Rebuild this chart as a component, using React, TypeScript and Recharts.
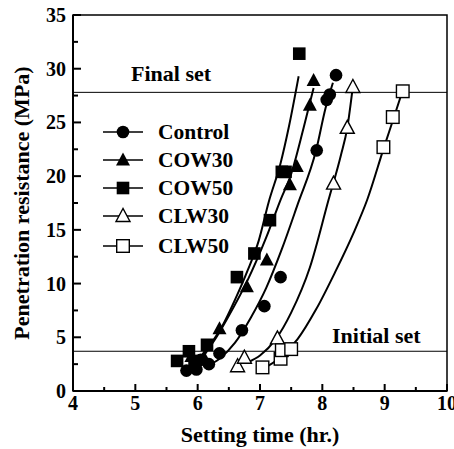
import React from "react";
import {
  ComposedChart,
  Line,
  Scatter,
  XAxis,
  YAxis,
  ReferenceLine,
  ReferenceArea,
  Legend,
} from "recharts";

const control = [
  { x: 5.82, y: 1.9 }, { x: 5.98, y: 2.0 }, { x: 6.05, y: 2.9 }, { x: 6.18, y: 2.5 },
  { x: 6.35, y: 3.5 }, { x: 6.71, y: 5.65 }, { x: 7.07, y: 7.9 }, { x: 7.33, y: 10.6 },
  { x: 7.91, y: 22.4 }, { x: 8.07, y: 27.1 }, { x: 8.12, y: 27.6 }, { x: 8.22, y: 29.4 },
];
const cow30 = [
  { x: 5.9, y: 3.2 }, { x: 6.1, y: 3.1 }, { x: 6.35, y: 5.8 }, { x: 6.79, y: 9.7 },
  { x: 7.11, y: 12.2 }, { x: 7.48, y: 19.2 }, { x: 7.59, y: 20.9 }, { x: 7.8, y: 26.6 },
  { x: 7.86, y: 28.9 },
];
const cow50 = [
  { x: 5.67, y: 2.8 }, { x: 5.86, y: 3.7 }, { x: 5.95, y: 2.8 }, { x: 6.15, y: 4.3 },
  { x: 6.63, y: 10.6 }, { x: 6.91, y: 12.8 }, { x: 7.16, y: 15.9 }, { x: 7.35, y: 20.4 },
  { x: 7.41, y: 20.4 }, { x: 7.63, y: 31.4 },
];
const clw30 = [
  { x: 6.64, y: 2.3 }, { x: 6.75, y: 3.1 }, { x: 7.28, y: 4.9 }, { x: 8.18, y: 19.3 },
  { x: 8.4, y: 24.5 }, { x: 8.49, y: 28.3 },
];
const clw50 = [
  { x: 7.04, y: 2.2 }, { x: 7.33, y: 3.0 }, { x: 7.35, y: 3.8 }, { x: 7.5, y: 3.9 },
  { x: 8.98, y: 22.7 }, { x: 9.13, y: 25.5 }, { x: 9.29, y: 27.9 },
];

// fitted curves
const controlFit = [
  { x: 6.15, y: 2.3 }, { x: 6.35, y: 3.0 }, { x: 6.6, y: 4.5 }, { x: 6.85, y: 6.8 },
  { x: 7.1, y: 9.6 }, { x: 7.35, y: 13.2 }, { x: 7.6, y: 17.3 }, { x: 7.9, y: 22.4 },
  { x: 8.05, y: 26.3 }, { x: 8.17, y: 28.7 },
];
const cow30Fit = [
  { x: 6.1, y: 3.3 }, { x: 6.3, y: 5.0 }, { x: 6.5, y: 7.0 }, { x: 6.8, y: 10.3 },
  { x: 7.1, y: 14.3 }, { x: 7.33, y: 17.8 }, { x: 7.5, y: 20.2 }, { x: 7.7, y: 24.5 },
  { x: 7.86, y: 28.2 },
];
const cow50Fit = [
  { x: 6.05, y: 3.2 }, { x: 6.2, y: 4.3 }, { x: 6.4, y: 6.1 }, { x: 6.6, y: 8.5 },
  { x: 6.8, y: 11.2 }, { x: 6.98, y: 14.0 }, { x: 7.14, y: 17.6 }, { x: 7.33, y: 21.2 },
  { x: 7.46, y: 24.5 }, { x: 7.62, y: 29.3 },
];
const clw30Fit = [
  { x: 6.82, y: 2.7 }, { x: 7.0, y: 3.3 }, { x: 7.25, y: 4.8 }, { x: 7.5, y: 7.3 },
  { x: 7.8, y: 11.5 }, { x: 8.1, y: 17.8 }, { x: 8.3, y: 22.0 }, { x: 8.4, y: 24.5 },
  { x: 8.48, y: 27.9 },
];
const clw50Fit = [
  { x: 7.06, y: 2.1 }, { x: 7.3, y: 3.0 }, { x: 7.6, y: 4.8 }, { x: 7.9, y: 7.6 },
  { x: 8.2, y: 11.0 }, { x: 8.5, y: 14.7 }, { x: 8.72, y: 17.8 }, { x: 8.99, y: 22.7 },
  { x: 9.15, y: 25.5 }, { x: 9.29, y: 28.0 },
];

const xTicks = [4, 4.5, 5, 5.5, 6, 6.5, 7, 7.5, 8, 8.5, 9, 9.5, 10];
const yTicks = [0, 2.5, 5, 7.5, 10, 12.5, 15, 17.5, 20, 22.5, 25, 27.5, 30, 32.5, 35];
const initialSet = 3.7;
const finalSet = 27.8;

const FONT = "'Liberation Serif', 'Times New Roman', serif";

type ShapeKind = "circle" | "triangle" | "square" | "openTriangle" | "openSquare";

function Marker({ cx, cy, kind }: { cx: number; cy: number; kind: ShapeKind }) {
  const filled = kind === "circle" || kind === "triangle" || kind === "square";
  const fill = filled ? "#000" : "#fff";
  const sw = filled ? 0 : 1.4;
  if (kind === "circle") return <circle cx={cx} cy={cy} r={6.3} fill="#000" />;
  if (kind === "triangle" || kind === "openTriangle")
    return (
      <polygon
        points={`${cx},${cy - 7.5} ${cx - 7},${cy + 5.5} ${cx + 7},${cy + 5.5}`}
        fill={fill}
        stroke="#000"
        strokeWidth={sw}
      />
    );
  return <rect x={cx - 6.3} y={cy - 6.3} width={12.6} height={12.6} fill={fill} stroke="#000" strokeWidth={sw} />;
}

const series: { name: string; pts: { x: number; y: number }[]; fit: { x: number; y: number }[]; kind: ShapeKind }[] = [
  { name: "Control", pts: control, fit: controlFit, kind: "circle" },
  { name: "COW30", pts: cow30, fit: cow30Fit, kind: "triangle" },
  { name: "COW50", pts: cow50, fit: cow50Fit, kind: "square" },
  { name: "CLW30", pts: clw30, fit: clw30Fit, kind: "openTriangle" },
  { name: "CLW50", pts: clw50, fit: clw50Fit, kind: "openSquare" },
];

const XTick = (props: any) => {
  const { x, y, payload } = props;
  const major = Number.isInteger(payload.value);
  return (
    <g>
      <line x1={x} x2={x} y1={y} y2={y - (major ? 7 : 4)} stroke="#000" strokeWidth={2} />
      {major && (
        <text x={x} y={y + 19} textAnchor="middle" fontFamily={FONT} fontWeight="bold" fontSize={20} fill="#000">
          {payload.value}
        </text>
      )}
    </g>
  );
};

const YTick = (props: any) => {
  const { x, y, payload } = props;
  const major = payload.value % 5 === 0;
  return (
    <g>
      <line x1={x} x2={x + (major ? 8 : 5)} y1={y} y2={y} stroke="#000" strokeWidth={2} />
      {major && (
        <text x={x - 7} y={y + 7} textAnchor="end" fontFamily={FONT} fontWeight="bold" fontSize={20} fill="#000">
          {payload.value}
        </text>
      )}
    </g>
  );
};

const LegendBox = () => (
  <svg width={140} height={145}>
    {series.map((s, i) => {
      const cy = 14 + i * 28 + (i === 4 ? 2 : 0);
      return (
        <g key={s.name}>
          <line x1={3} x2={43} y1={cy} y2={cy} stroke="#000" strokeWidth={1.6} />
          <Marker cx={23} cy={cy} kind={s.kind} />
          <text x={58} y={cy + 7} fontFamily={FONT} fontWeight="bold" fontSize={21.5} fill="#000">
            {s.name}
          </text>
        </g>
      );
    })}
  </svg>
);

export default function App() {
  return (
    <div style={{ position: "absolute", left: 0, top: 0 }}>
      <ComposedChart width={454} height={449} margin={{ top: 15, right: 7, bottom: 0, left: 0 }}>
        <XAxis
          dataKey="x"
          type="number"
          domain={[4, 10]}
          ticks={xTicks}
          interval={0}
          tickSize={0}
          tickMargin={0}
          tickLine={false}
          tick={<XTick />}
          height={58}
          axisLine={{ stroke: "#000", strokeWidth: 2 }}
          label={(p: any) => {
            const vb = p.viewBox || {};
            return (
              <text
                x={vb.x + vb.width / 2}
                y={vb.y + 51}
                textAnchor="middle"
                fontFamily={FONT}
                fontWeight="bold"
                fontSize={22}
                fill="#000"
              >
                Setting time (hr.)
              </text>
            );
          }}
        />
        <YAxis
          dataKey="y"
          type="number"
          domain={[0, 35]}
          ticks={yTicks}
          interval={0}
          tickSize={0}
          tickMargin={0}
          tickLine={false}
          tick={<YTick />}
          width={73}
          axisLine={{ stroke: "#000", strokeWidth: 2 }}
          label={(p: any) => {
            const vb = p.viewBox || {};
            const cy = vb.y + vb.height / 2;
            return (
              <text
                x={21}
                y={cy}
                transform={`rotate(-90 21 ${cy})`}
                textAnchor="middle"
                dominantBaseline="central"
                fontFamily={FONT}
                fontWeight="bold"
                fontSize={22}
                fill="#000"
              >
                Penetration resistance (MPa)
              </text>
            );
          }}
        />
        <ReferenceArea x1={4} x2={10} y1={0} y2={35} fill="none" stroke="#000" strokeWidth={1.5} />
        <ReferenceLine
          y={finalSet}
          stroke="#000"
          strokeWidth={1}
          label={(p: any) => (
            <text x={p.viewBox.x + 58} y={p.viewBox.y - 11} fontFamily={FONT} fontWeight="bold" fontSize={22} fill="#000">
              Final set
            </text>
          )}
        />
        <ReferenceLine
          y={initialSet}
          stroke="#000"
          strokeWidth={1}
          label={(p: any) => (
            <text x={p.viewBox.x + 259} y={p.viewBox.y - 8} fontFamily={FONT} fontWeight="bold" fontSize={22} fill="#000">
              Initial set
            </text>
          )}
        />
        {series.map((s) => (
          <Line
            key={s.name + "-fit"}
            data={s.fit}
            dataKey="y"
            type="monotone"
            stroke="#000"
            strokeWidth={2}
            dot={false}
            activeDot={false}
            legendType="none"
            isAnimationActive={false}
          />
        ))}
        {series.map((s) => (
          <Scatter
            key={s.name}
            name={s.name}
            data={s.pts}
            dataKey="y"
            isAnimationActive={false}
            shape={(p: any) => <Marker cx={p.cx} cy={p.cy} kind={s.kind} />}
          />
        ))}
        <Legend
          layout="vertical"
          align="center"
          verticalAlign="middle"
          content={() => <LegendBox />}
          wrapperStyle={{ left: 100, top: 118, width: 140, height: 145 }}
        />
      </ComposedChart>
    </div>
  );
}
